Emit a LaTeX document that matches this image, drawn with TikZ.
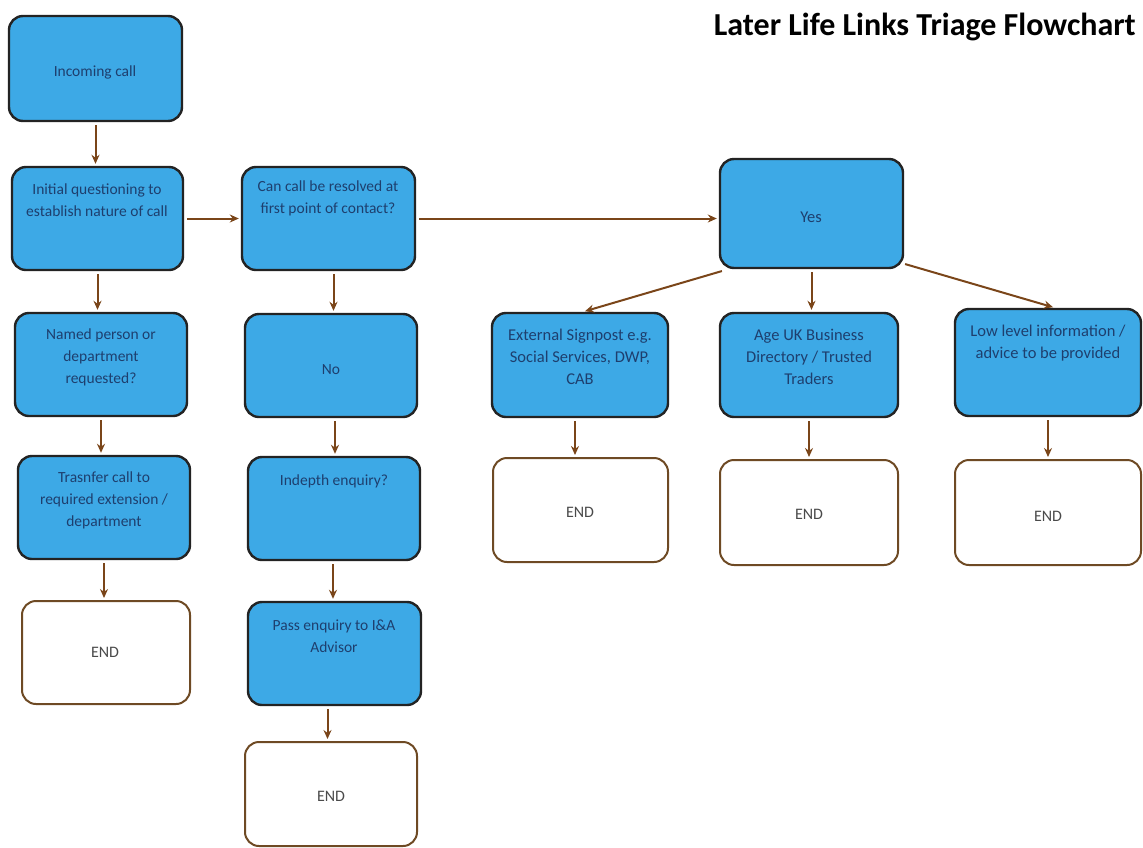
\documentclass[tikz,border=0pt]{standalone}
\usepackage{fontspec}
\setmainfont{Carlito}
\usetikzlibrary{arrows.meta}
\definecolor{boxblue}{HTML}{3DA9E6}
\definecolor{boxline}{HTML}{232323}
\definecolor{endline}{HTML}{6E4A24}
\definecolor{arrowbrown}{HTML}{7A4519}
\definecolor{txtblue}{HTML}{1E3F6E}
\definecolor{endtxt}{HTML}{4A4A4A}
\tikzset{
  bbox/.style={draw=boxline, fill=boxblue, line width=2.4pt, rounded corners=14pt, inner sep=0pt},
  ebox/.style={draw=endline, fill=white, line width=2pt, rounded corners=14pt, inner sep=0pt},
  btxt/.style={text=txtblue, align=center, font=\fontsize{16.5}{22}\selectfont, inner sep=0pt},
  ltxt/.style={btxt, font=\fontsize{15.5}{22}\selectfont},
  etxt/.style={text=endtxt, font=\fontsize{16}{18}\selectfont, inner sep=0pt},
  arr/.style={draw=arrowbrown, line width=2pt, -{Stealth[length=9pt,width=8pt]}, shorten <=3pt, shorten >=2pt},
}
\begin{document}
\begin{tikzpicture}[x=1pt,y=-1pt]
\useasboundingbox (0,0) rectangle (1143,847);
% title
\node[anchor=east, font=\fontsize{32}{36}\selectfont\bfseries, inner sep=0pt] (title) at (1136,27) {Later Life Links Triage Flowchart};
% blue boxes
\node[bbox, minimum width=173pt, minimum height=105pt] (inc) at (95.5,68.5) {};
\node[bbox, minimum width=171pt, minimum height=103pt] (init) at (97.5,218.5) {};
\node[bbox, minimum width=173pt, minimum height=103pt] (can) at (328.5,218.5) {};
\node[bbox, minimum width=172pt, minimum height=103pt] (named) at (101,364.5) {};
\node[bbox, minimum width=172pt, minimum height=103pt] (no) at (331,365.5) {};
\node[bbox, minimum width=172pt, minimum height=103pt] (trans) at (104,507.5) {};
\node[bbox, minimum width=172pt, minimum height=103pt] (indepth) at (334,508.5) {};
\node[bbox, minimum width=173pt, minimum height=103pt] (pass) at (334.5,653.5) {};
\node[bbox, minimum width=183pt, minimum height=109pt] (yes) at (811.5,213.5) {};
\node[bbox, minimum width=176pt, minimum height=104pt] (ext) at (580,365) {};
\node[bbox, minimum width=178pt, minimum height=104pt] (age) at (809,365) {};
\node[bbox, minimum width=186pt, minimum height=107pt] (low) at (1048,362.5) {};
% end boxes
\node[ebox, minimum width=168pt, minimum height=103pt] (end1) at (106,652.5) {};
\node[ebox, minimum width=172pt, minimum height=104pt] (end2) at (331,794) {};
\node[ebox, minimum width=175pt, minimum height=104pt] (endA) at (580.5,510) {};
\node[ebox, minimum width=178pt, minimum height=105pt] (endB) at (809,512.5) {};
\node[ebox, minimum width=186pt, minimum height=105pt] (endC) at (1048,512.5) {};
% texts
\node[ltxt] (inc-t) at (95,72) {Incoming call};
\node[ltxt] (init-t) at (97,200) {Initial questioning to\\establish nature of call};
\node[ltxt] (can-t) at (328,198) {Can call be resolved at\\first point of contact?};
\node[ltxt] (named-t) at (101,357) {Named person or\\department\\requested?};
\node[ltxt] (no-t) at (331,370) {No};
\node[ltxt] (trans-t) at (104,500) {Trasnfer call to\\required extension /\\department};
\node[ltxt] (indepth-t) at (334,481) {Indepth enquiry?};
\node[ltxt] (pass-t) at (334,636) {Pass enquiry to I\&A\\Advisor};
\node[btxt] (yes-t) at (811,217) {Yes};
\node[btxt] (ext-t) at (580,357) {External Signpost e.g.\\Social Services, DWP,\\CAB};
\node[btxt] (age-t) at (809,357) {Age UK Business\\Directory / Trusted\\Traders};
\node[btxt] (low-t) at (1048,343) {Low level information /\\advice to be provided};
\node[etxt] (end1-t) at (105,652) {END};
\node[etxt] (end2-t) at (331,796) {END};
\node[etxt] (endA-t) at (580,512) {END};
\node[etxt] (endB-t) at (809,514) {END};
\node[etxt] (endC-t) at (1048,516) {END};
% connectors
\draw[arr] (inc.south) -- (inc.south |- init.north);
\draw[arr] (init.south) -- (init.south |- named.north);
\draw[arr] (named.south) -- (named.south |- trans.north);
\draw[arr] (trans.south) -- (trans.south |- end1.north);
\draw[arr] (init.east) -- (can.west);
\draw[arr] ([xshift=5pt]can.south) -- ([xshift=5pt]can.south |- no.north);
\draw[arr] ([xshift=4pt]no.south) -- ([xshift=4pt]no.south |- indepth.north);
\draw[arr] ([xshift=-1pt]indepth.south) -- ([xshift=-1pt]indepth.south |- pass.north);
\draw[arr] ([xshift=-7pt]pass.south) -- ([xshift=-7pt]pass.south |- end2.north);
\draw[arr] (can.east) -- (can.east -| yes.west);
\draw[arr] ([xshift=6pt,yshift=-1pt]yes.south west) -- ([xshift=3pt]ext.north);
\draw[arr] (yes.south) -- (yes.south |- age.north);
\draw[arr] ([xshift=-2pt,yshift=6pt]yes.south east) -- ([xshift=7pt]low.north);
\draw[arr] ([xshift=-5pt]ext.south) -- ([xshift=-5pt]ext.south |- endA.north);
\draw[arr] (age.south) -- (age.south |- endB.north);
\draw[arr] (low.south) -- (low.south |- endC.north);
\end{tikzpicture}
\end{document}
